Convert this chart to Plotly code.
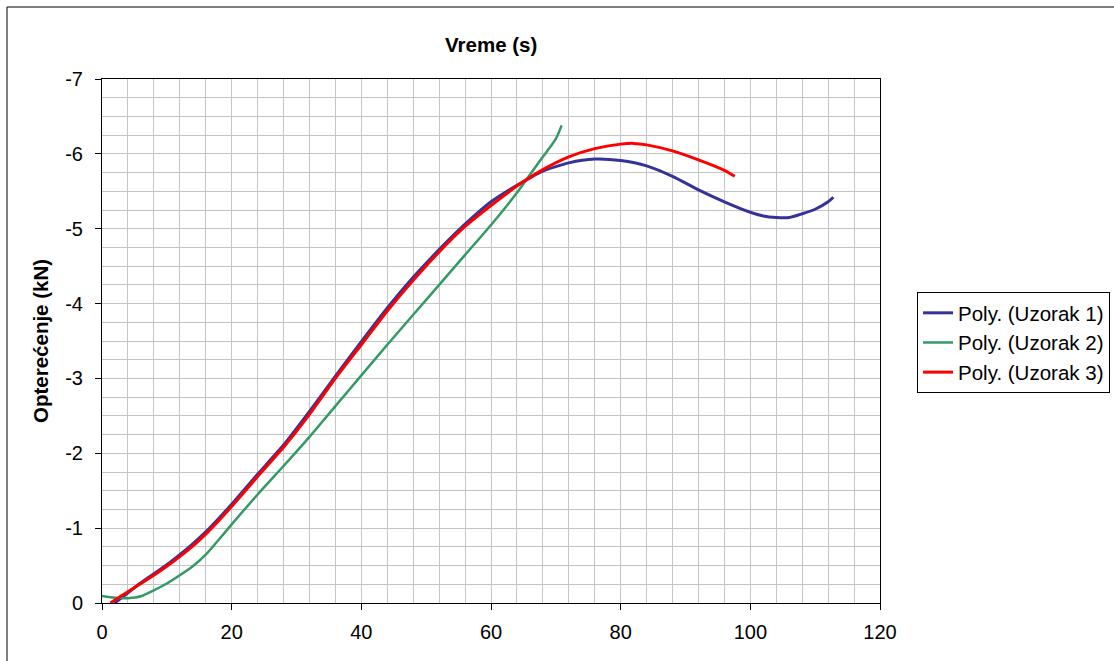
import plotly.graph_objects as go

# Opterećenje vs vreme – polinomski trendovi za tri uzorka
x_u1 = [1.9, 3, 4, 6, 8, 10, 12, 14, 16, 18, 20, 24, 28, 32, 36, 40, 44, 48, 52, 56, 60,
        64, 68, 72, 76, 80, 84, 88, 92, 96, 100, 102, 104, 106, 108, 110, 112, 112.8]
y_u1 = [0, -0.065, -0.135, -0.27, -0.39, -0.51, -0.645, -0.79, -0.95, -1.13, -1.32, -1.72,
        -2.11, -2.56, -3.03, -3.49, -3.94, -4.35, -4.72, -5.06, -5.36, -5.58, -5.77, -5.88,
        -5.93, -5.91, -5.84, -5.70, -5.52, -5.36, -5.22, -5.17, -5.15, -5.15, -5.20,
        -5.26, -5.36, -5.42]

x_u2 = [0, 2, 4, 6, 8, 10, 12, 14, 16, 18, 20, 24, 28, 32, 36, 40, 44, 48, 52, 56, 60,
        64, 66, 68, 70, 70.9]
y_u2 = [-0.094, -0.07, -0.065, -0.09, -0.17, -0.26, -0.37, -0.49, -0.645, -0.845, -1.05,
        -1.45, -1.83, -2.22, -2.63, -3.04, -3.45, -3.85, -4.25, -4.65, -5.05, -5.48,
        -5.72, -5.96, -6.20, -6.38]

x_u3 = [1.3, 2, 3, 4, 6, 8, 10, 12, 14, 16, 18, 20, 24, 28, 32, 36, 40, 44, 48, 52, 56, 60,
        64, 68, 72, 76, 80, 82, 84, 88, 92, 96, 97.6]
y_u3 = [0, -0.04, -0.095, -0.15, -0.26, -0.37, -0.49, -0.62, -0.76, -0.92, -1.10, -1.29,
        -1.69, -2.08, -2.52, -3.00, -3.45, -3.90, -4.31, -4.69, -5.03, -5.31, -5.57, -5.79,
        -5.96, -6.07, -6.13, -6.14, -6.12, -6.04, -5.92, -5.78, -5.70]

series_names = ["Poly. (Uzorak 1)", "Poly. (Uzorak 2)", "Poly. (Uzorak 3)"]
series_colors = ["#333399", "#339966", "#FF0000"]

y_ticks = [0, -1, -2, -3, -4, -5, -6, -7]
y_tick_labels = ["0", "-1", "-2", "-3", "-4", "-5", "-6", "-7"]
x_ticks = [0, 20, 40, 60, 80, 100, 120]
x_tick_labels = ["0", "20", "40", "60", "80", "100", "120"]

FONT = "Arial, Liberation Sans, sans-serif"

fig = go.Figure()
fig.add_trace(go.Scatter(x=x_u1, y=y_u1, mode="lines", name=series_names[0],
                         line=dict(color=series_colors[0], width=3, shape="spline", smoothing=0.6),
                         legendrank=1))
fig.add_trace(go.Scatter(x=x_u2, y=y_u2, mode="lines", name=series_names[1],
                         line=dict(color=series_colors[1], width=2.5, shape="spline", smoothing=0.6),
                         legendrank=2))
fig.add_trace(go.Scatter(x=x_u3, y=y_u3, mode="lines", name=series_names[2],
                         line=dict(color=series_colors[2], width=3, shape="spline", smoothing=0.6),
                         legendrank=3))

grid_col = "#c4c4c4"
axis_common = dict(
    showline=True, linecolor="black", linewidth=1, mirror=True,
    ticks="outside", ticklen=6, tickcolor="black", tickwidth=1,
    showgrid=True, gridcolor=grid_col, gridwidth=1, zeroline=False,
    tickfont=dict(family=FONT, size=20, color="black"),
)

fig.update_xaxes(range=[0, 120], tickvals=x_ticks, ticktext=x_tick_labels,
                 minor=dict(dtick=4, tick0=0, showgrid=True, gridcolor=grid_col, ticks=""),
                 ticklabelstandoff=5, **axis_common)
fig.update_yaxes(range=[0, -7], tickvals=y_ticks, ticktext=y_tick_labels,
                 minor=dict(dtick=0.25, tick0=0, showgrid=True, gridcolor=grid_col, ticks=""),
                 ticklabelstandoff=8, **axis_common)

fig.update_layout(
    width=1114, height=661,
    margin=dict(l=102, r=234, t=79, b=58, autoexpand=False),
    paper_bgcolor="white", plot_bgcolor="white",
    font=dict(family=FONT, size=20, color="black"),
    showlegend=True,
    legend=dict(x=1.0476, xanchor="left", y=0.5935, yanchor="top",
                bordercolor="black", borderwidth=1, bgcolor="white",
                font=dict(family=FONT, size=20.5, color="black"),
                entrywidth=200, entrywidthmode="pixels",
                tracegroupgap=0),
    annotations=[
        dict(text="<b>Vreme (s)</b>", xref="paper", yref="paper", x=0.5, y=1.065,
             xanchor="center", yanchor="middle", showarrow=False,
             font=dict(family=FONT, size=20.5, color="black")),
        dict(text="<b>Opterećenje (kN)</b>", xref="paper", yref="paper", x=-0.0797, y=0.5,
             xanchor="center", yanchor="middle", textangle=-90, showarrow=False,
             font=dict(family=FONT, size=20.5, color="black")),
    ],
    shapes=[
        dict(type="rect", xref="paper", yref="paper", x0=-0.1221, x1=1.32, y0=-0.14, y1=1.1374,
             line=dict(color="black", width=1), fillcolor="rgba(0,0,0,0)", layer="below"),
    ],
)

fig.write_html("out.html")
